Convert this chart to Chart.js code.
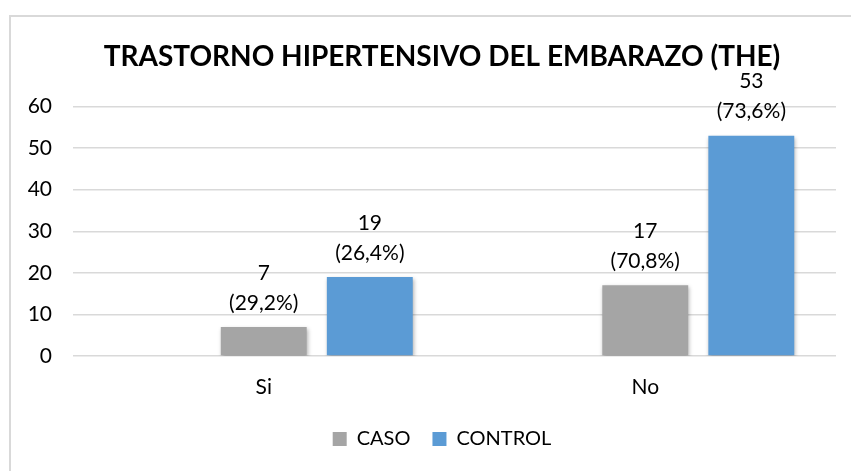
<!DOCTYPE html>
<html>
<head>
<meta charset="utf-8">
<script src="https://cdn.jsdelivr.net/npm/chart.js@4/dist/chart.umd.min.js"></script>
<style>
  body { margin: 0; background: #fff; }
  #wrap { position: relative; width: 851px; height: 471px; overflow: hidden; }
  #frame { position: absolute; left: 9px; top: 15px; width: 900px; height: 500px; border: 2px solid #d9d9d9; box-sizing: border-box; }
  canvas { position: absolute; left: 0; top: 0; }
</style>
</head>
<body>
<div id="wrap">
  <div id="frame"></div>
  <canvas id="chart" width="851" height="471"></canvas>
</div>
<script>
// Datos del gráfico
const categorias = ['Si', 'No'];
const caso = [7, 17];
const control = [19, 53];
const casoPct = [29.2, 70.8];
const controlPct = [26.4, 73.6];
const vacio = [null, null]; // serie vacía que deja el hueco a la izquierda, como en Excel

const fuente = 'Lato, "Open Sans", sans-serif';

function pct(v) {
  return '(' + v.toFixed(1).replace('.', ',') + '%)';
}

// Etiquetas de dos líneas encima de cada barra + sombra de las barras
const etiquetas = {
  id: 'etiquetas',
  afterLayout(chart) {
    // título y leyenda centrados sobre todo el marco, no sobre el lienzo recortado
    [chart.titleBlock, chart.legend].forEach(b => { b.left += 24; b.right += 24; });
  },
  beforeDatasetsDraw(chart) {
    const c = chart.ctx;
    c.save();
    c.shadowColor = 'rgba(0,0,0,0.3)';
    c.shadowBlur = 4;
    c.shadowOffsetX = 1;
    c.shadowOffsetY = 2;
  },
  afterDatasetsDraw(chart) {
    const c = chart.ctx;
    c.restore();
    c.save();
    c.font = '21px ' + fuente;
    c.fillStyle = '#000';
    c.textAlign = 'center';
    c.textBaseline = 'middle';
    chart.data.datasets.forEach((ds, i) => {
      if (!ds.pcts) return;
      chart.getDatasetMeta(i).data.forEach((bar, j) => {
        c.fillText(String(ds.data[j]), bar.x, bar.y - 54);
        c.fillText(pct(ds.pcts[j]), bar.x, bar.y - 24);
      });
    });
    c.restore();
  }
};

new Chart(document.getElementById('chart'), {
  type: 'bar',
  data: {
    labels: categorias,
    datasets: [
      { label: '', data: vacio, backgroundColor: 'rgba(0,0,0,0)' },
      { label: 'CASO', data: caso, pcts: casoPct, backgroundColor: '#a5a5a5' },
      { label: 'CONTROL', data: control, pcts: controlPct, backgroundColor: '#5b9bd5' }
    ]
  },
  options: {
    responsive: false,
    animation: false,
    events: [],
    layout: { padding: { left: 0, right: 15, top: 0, bottom: 12 } },
    datasets: { bar: { categoryPercentage: 0.834, barPercentage: 0.81 } },
    plugins: {
      title: {
        display: true,
        text: 'TRASTORNO HIPERTENSIVO DEL EMBARAZO (THE)',
        color: '#000',
        font: { family: fuente, size: 28, weight: 'bold', lineHeight: 1.2 },
        padding: { top: 40, bottom: 33 }
      },
      legend: {
        position: 'bottom',
        labels: {
          filter: item => item.text !== '',
          color: '#000',
          font: { family: fuente, size: 20 },
          boxWidth: 14,
          boxHeight: 14,
          padding: 22
        }
      },
      tooltip: { enabled: false }
    },
    scales: {
      x: {
        afterFit: s => { s.height = 51; },
        grid: { display: false },
        border: { display: false },
        ticks: { color: '#000', font: { family: fuente, size: 21 }, padding: 11 }
      },
      y: {
        min: 0,
        max: 60,
        afterFit: s => { s.width = 73; },
        grid: { color: '#d9d9d9', lineWidth: 1.5, drawTicks: false },
        border: { display: false },
        ticks: { stepSize: 10, color: '#000', font: { family: fuente, size: 21 }, padding: 21 }
      }
    }
  },
  plugins: [etiquetas]
});
</script>
</body>
</html>
